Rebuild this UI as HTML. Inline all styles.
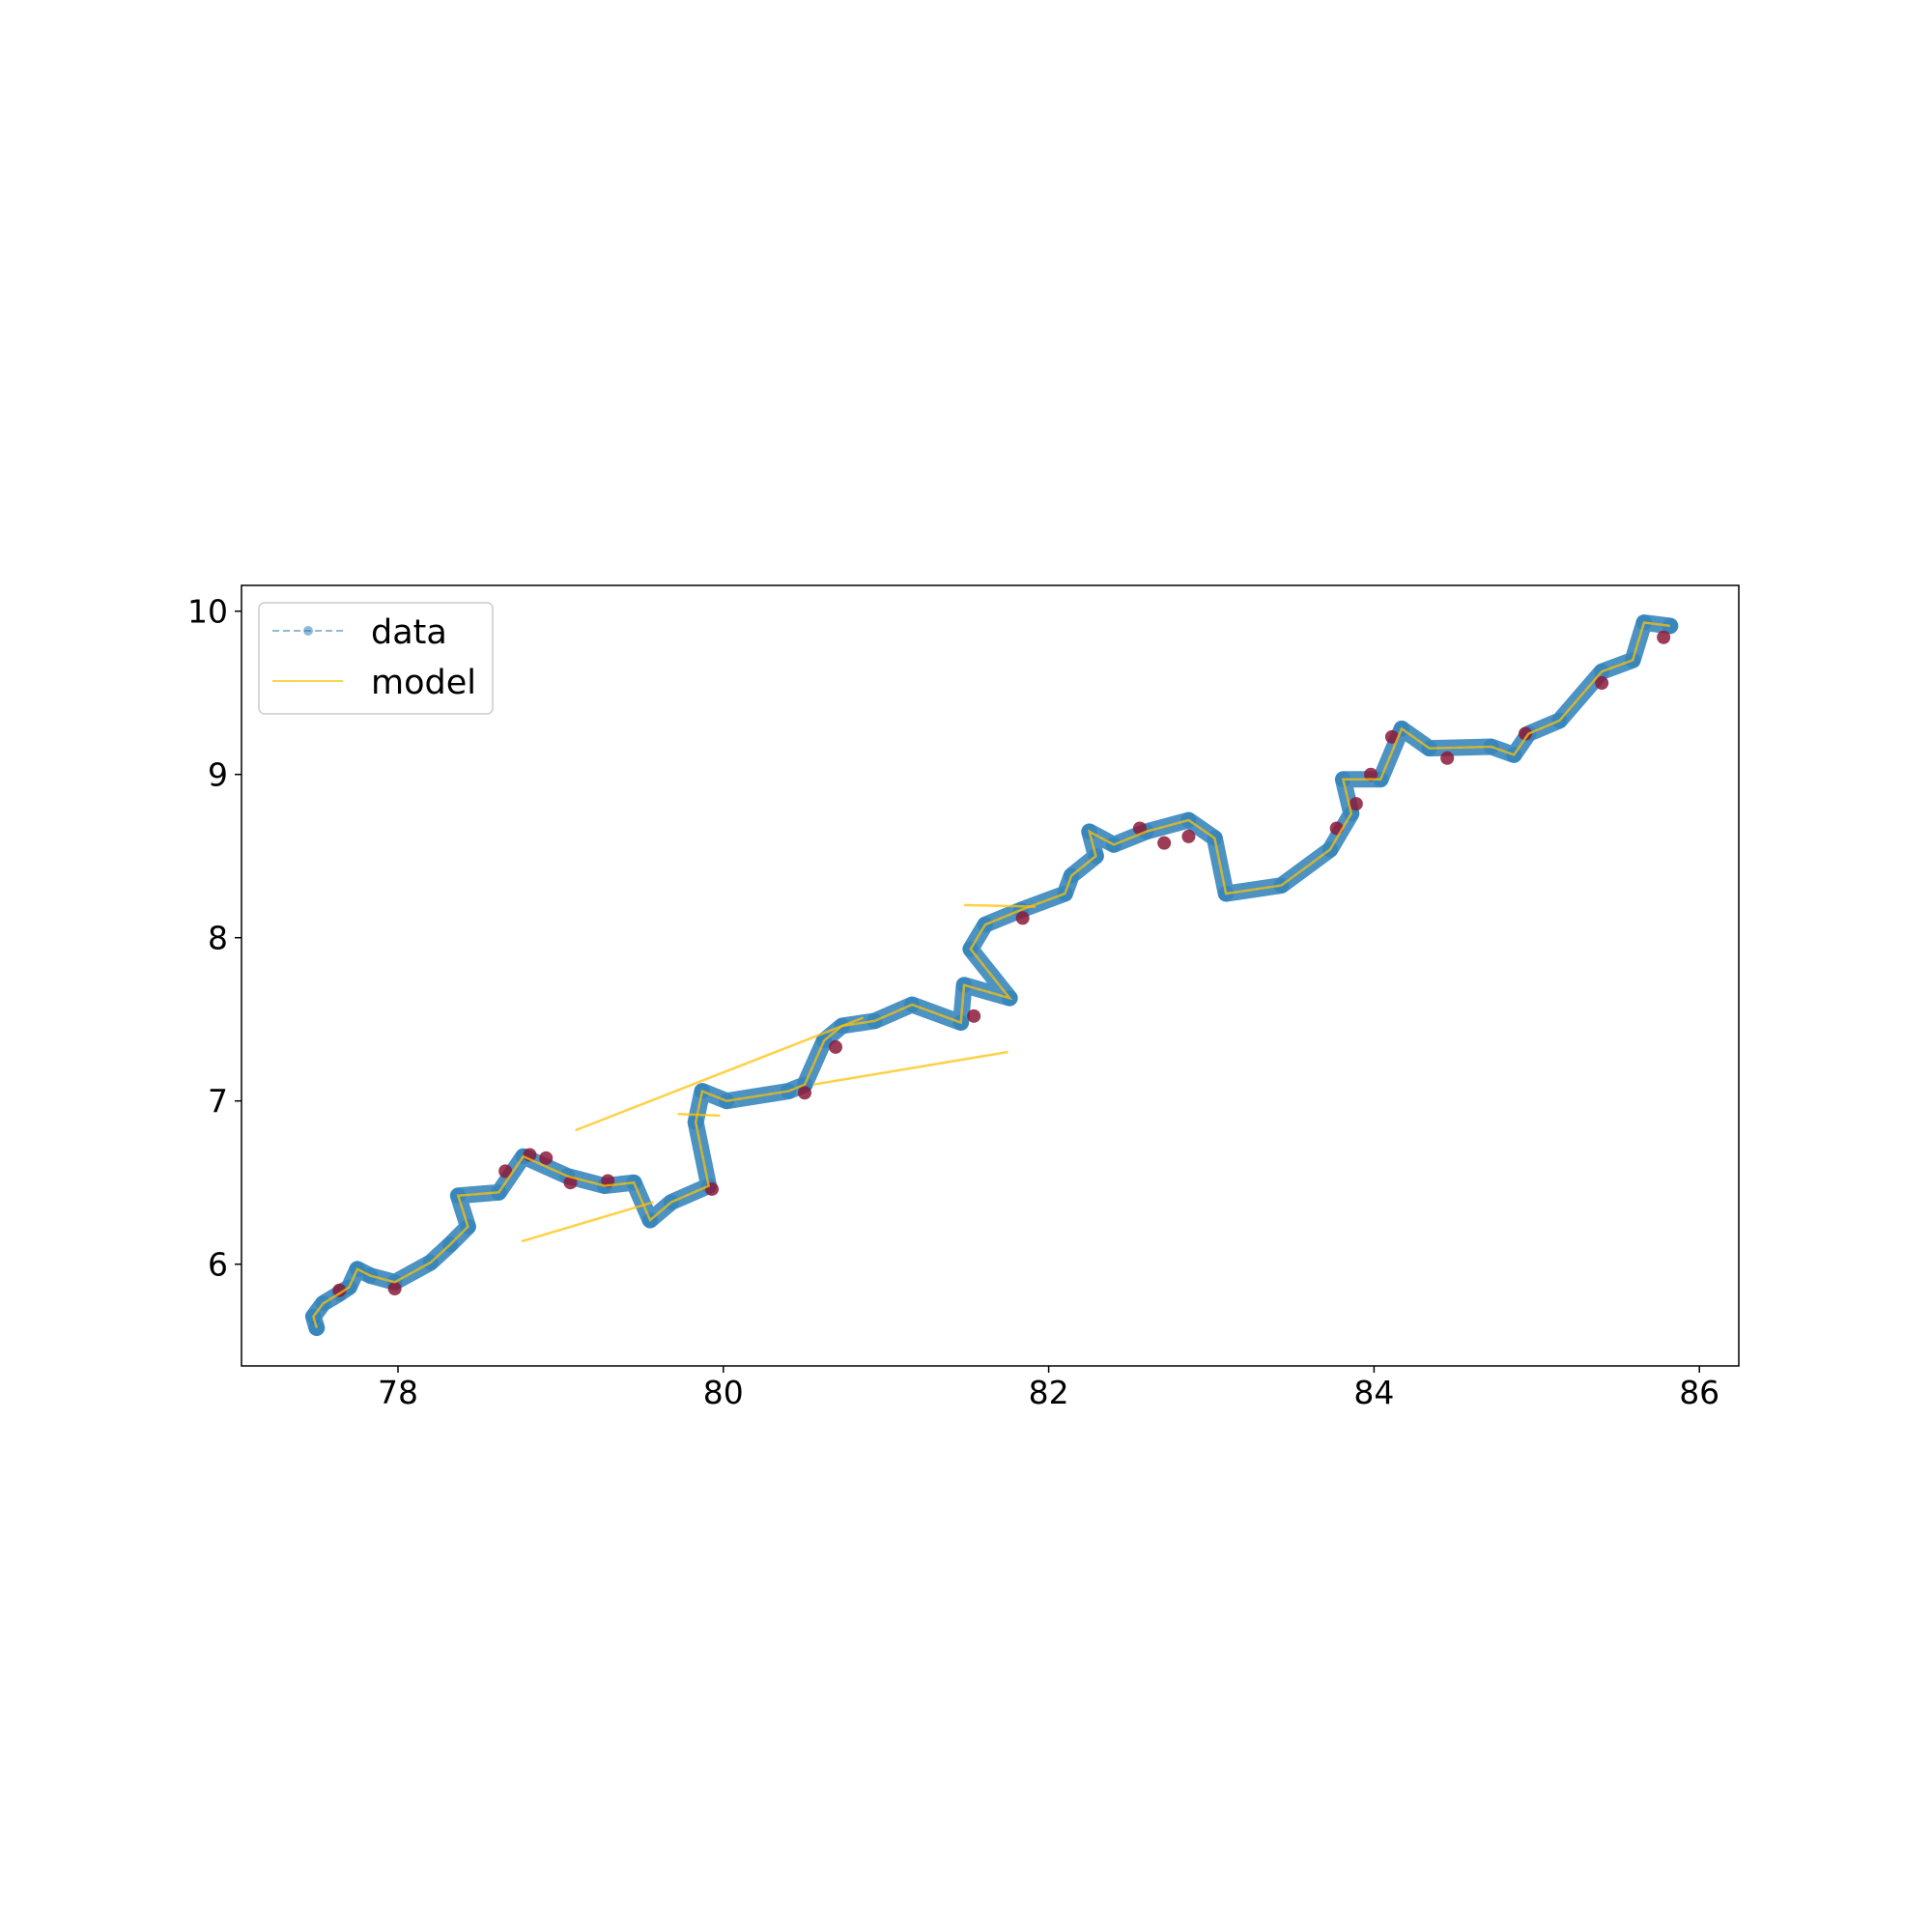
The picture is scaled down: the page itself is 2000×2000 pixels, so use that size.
<!DOCTYPE html>
<html><head><meta charset="utf-8"><style>
html,body{margin:0;padding:0;background:#fff;}
svg{display:block;font-family:"DejaVu Sans","Liberation Sans",sans-serif;}
</style></head><body>
<svg id="chart" width="2000" height="2000" xmlns="http://www.w3.org/2000/svg">
<rect x="0" y="0" width="2000" height="2000" fill="#fff"/>
<g id="plot"></g>
<rect x="250" y="606" width="1550" height="808" fill="none" stroke="#000" stroke-width="1.5"/>
<g id="ticks"></g>
<g>
<rect x="268" y="624" width="242" height="115" rx="6" fill="#fff" fill-opacity="0.8" stroke="#ccc" stroke-width="1.5"/>
<line x1="282" y1="653" x2="355" y2="653" stroke="#1f77b4" stroke-opacity="0.5" stroke-width="2" stroke-dasharray="7,4"/>
<circle cx="319" cy="653" r="5" fill="#1f77b4" fill-opacity="0.5"/>
<text x="384" y="666" font-size="35" fill="#000">data</text>
<line x1="282" y1="705" x2="355" y2="705" stroke="#ffc107" stroke-opacity="0.7" stroke-width="2"/>
<text x="384" y="718" font-size="35" fill="#000">model</text>
</g>
</svg>
<script>
const dataX=[77.50,77.48,77.54,77.64,77.70,77.75,77.83,77.98,78.2,78.32,78.43,78.37,78.62,78.77,79.04,79.27,79.45,79.55,79.68,79.91,79.83,79.87,80.02,80.40,80.5,80.62,80.73,80.93,81.16,81.46,81.48,81.76,81.52,81.61,81.83,82.1,82.14,82.29,82.25,82.4,82.6,82.86,83.02,83.09,83.43,83.73,83.86,83.81,84.04,84.17,84.34,84.72,84.86,84.95,85.14,85.4,85.59,85.66,85.82];
const dataY=[5.61,5.68,5.76,5.82,5.86,5.97,5.93,5.89,6.01,6.12,6.23,6.42,6.44,6.66,6.54,6.48,6.50,6.27,6.38,6.48,6.87,7.06,7.00,7.06,7.10,7.37,7.46,7.49,7.59,7.48,7.71,7.63,7.93,8.08,8.17,8.27,8.38,8.50,8.65,8.57,8.65,8.72,8.61,8.27,8.32,8.54,8.76,8.97,8.97,9.28,9.16,9.17,9.12,9.25,9.33,9.63,9.70,9.93,9.91];
const outX=[77.64,77.98,78.66,78.81,78.91,79.06,79.29,79.93,80.5,80.69,81.54,81.84,82.56,82.71,82.86,83.98,83.89,83.77,84.11,84.45,84.93,85.40,85.78];
const outY=[5.84,5.85,6.57,6.67,6.65,6.50,6.51,6.46,7.05,7.33,7.52,8.12,8.67,8.58,8.62,9.00,8.82,8.67,9.23,9.10,9.25,9.56,9.84];
const strayX1=[78.76,79.09,80.55,79.72,81.48];
const strayY1=[6.14,6.82,7.10,6.92,8.20];
const strayX2=[79.57,80.86,81.75,79.98,81.92];
const strayY2=[6.38,7.51,7.30,6.91,8.19];
const xTicks=[78,80,82,84,86];
const yTicks=[6,7,8,9,10];
const NS="http://www.w3.org/2000/svg";
const sx=v=>412+(v-78)*168.4;
const sy=v=>1308.7-(v-6)*169;
const plot=document.getElementById('plot');
const ticks=document.getElementById('ticks');
function mk(tag,attrs,parent){const e=document.createElementNS(NS,tag);for(const k in attrs)e.setAttribute(k,attrs[k]);parent.appendChild(e);return e;}
const pts=dataX.map((x,i)=>sx(x)+','+sy(dataY[i])).join(' ');
let band=mk('polyline',{points:pts,fill:'none',stroke:'#1f77b4','stroke-opacity':'0.8','stroke-width':'17','stroke-linejoin':'round','stroke-linecap':'round'},plot);


let dl=mk('polyline',{points:pts,fill:'none',stroke:'#1f77b4','stroke-opacity':'0.5','stroke-width':'2','stroke-dasharray':'7,4'},plot);


dataX.forEach((x,i)=>{
 const c=mk('circle',{cx:sx(x),cy:sy(dataY[i]),r:8,fill:'#1f77b4','fill-opacity':'0.45'},plot);
 
 
});
outX.forEach((x,i)=>{
 const c=mk('circle',{cx:sx(x),cy:sy(outY[i]),r:7,fill:'#8b1a3a','fill-opacity':'0.85'},plot);
 
 
});
let ml=mk('polyline',{points:pts,fill:'none',stroke:'#ffc107','stroke-opacity':'0.75','stroke-width':'2.5','stroke-linejoin':'miter'},plot);


strayX1.forEach((x,i)=>{
 const l=mk('line',{x1:sx(x),y1:sy(strayY1[i]),x2:sx(strayX2[i]),y2:sy(strayY2[i]),stroke:'#ffc107','stroke-opacity':'0.75','stroke-width':'2.5'},plot);
 
 
});
xTicks.forEach(v=>{
 const x=sx(v);
 const l=mk('line',{x1:x,y1:1414,x2:x,y2:1421,stroke:'#000','stroke-width':'1.5'},ticks);
 
 
 const t=mk('text',{x:x,y:1453,'font-size':'33','text-anchor':'middle',fill:'#000'},ticks);
 t.textContent=v;
 
 
});
yTicks.forEach(v=>{
 const y=sy(v);
 const l=mk('line',{x1:243,y1:y,x2:250,y2:y,stroke:'#000','stroke-width':'1.5'},ticks);
 
 
 const t=mk('text',{x:236,y:y+12,'font-size':'33','text-anchor':'end',fill:'#000'},ticks);
 t.textContent=v;
 
 
});
</script>
</body></html>
